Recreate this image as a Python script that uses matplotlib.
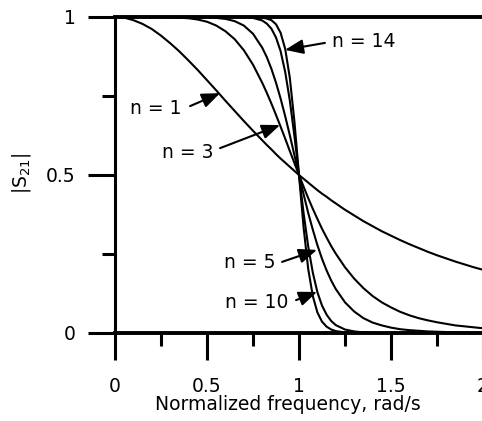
import matplotlib.pyplot as plt
from matplotlib.ticker import MultipleLocator

plt.rcParams['font.family'] = 'DejaVu Sans'
plt.rcParams['mathtext.fontset'] = 'dejavusans'

# normalized frequency (rad/s) and |S21|
freq = [0, 0.05, 0.1, 0.15, 0.2, 0.25, 0.3, 0.35, 0.4, 0.45, 0.5, 0.55, 0.6, 0.65, 0.7, 0.75, 0.8,
        0.825, 0.85, 0.875, 0.9, 0.925, 0.95, 0.975, 1.0, 1.025, 1.05, 1.075, 1.1, 1.125, 1.15, 1.175,
        1.2, 1.25, 1.3, 1.35, 1.4, 1.45, 1.5, 1.55, 1.6, 1.65, 1.7, 1.75, 1.8, 1.85, 1.9, 1.95, 2.0]

s21_n1 = [1.000, 0.998, 0.990, 0.978, 0.962, 0.941, 0.917, 0.891, 0.862, 0.832, 0.800, 0.768,
          0.735, 0.703, 0.671, 0.640, 0.610,
          0.595, 0.581, 0.566, 0.552, 0.539, 0.526, 0.513, 0.500, 0.488, 0.476, 0.464, 0.452,
          0.441, 0.431, 0.420,
          0.410, 0.390, 0.372, 0.354, 0.338, 0.322, 0.308, 0.294, 0.281, 0.269, 0.257, 0.246,
          0.236, 0.226, 0.217, 0.208, 0.200]
s21_n3 = [1.000, 1.000, 1.000, 1.000, 1.000, 1.000, 0.999, 0.998, 0.996, 0.992, 0.985, 0.973,
          0.955, 0.930, 0.895, 0.849, 0.792,
          0.760, 0.726, 0.690, 0.653, 0.615, 0.576, 0.538, 0.500, 0.463, 0.427, 0.393, 0.361,
          0.330, 0.302, 0.275,
          0.251, 0.208, 0.172, 0.142, 0.117, 0.097, 0.081, 0.067, 0.056, 0.047, 0.040, 0.034,
          0.029, 0.024, 0.021, 0.018, 0.015]
s21_n5 = [1.000, 1.000, 1.000, 1.000, 1.000, 1.000, 1.000, 1.000, 1.000, 1.000, 0.999, 0.997,
          0.994, 0.987, 0.973, 0.947, 0.903,
          0.873, 0.836, 0.792, 0.742, 0.686, 0.626, 0.563, 0.500, 0.439, 0.380, 0.327, 0.278,
          0.235, 0.198, 0.166,
          0.139, 0.097, 0.068, 0.047, 0.033, 0.024, 0.017, 0.012, 0.009, 0.007, 0.005, 0.004,
          0.003, 0.002, 0.002, 0.001, 0.001]
s21_n10 = [1.000, 1.000, 1.000, 1.000, 1.000, 1.000, 1.000, 1.000, 1.000, 1.000, 1.000, 1.000,
           1.000, 1.000, 0.999, 0.997, 0.989,
           0.979, 0.963, 0.935, 0.892, 0.826, 0.736, 0.624, 0.500, 0.379, 0.274, 0.191, 0.129,
           0.087, 0.058, 0.038,
           0.025, 0.011, 0.005, 0.002, 0.001, 0.000, 0.000, 0.000, 0.000, 0.000, 0.000, 0.000,
           0.000, 0.000, 0.000, 0.000, 0.000]
s21_n14 = [1.000, 1.000, 1.000, 1.000, 1.000, 1.000, 1.000, 1.000, 1.000, 1.000, 1.000, 1.000,
           1.000, 1.000, 1.000, 1.000, 0.998,
           0.995, 0.990, 0.977, 0.950, 0.899, 0.808, 0.670, 0.500, 0.334, 0.203, 0.117, 0.065,
           0.036, 0.020, 0.011,
           0.006, 0.002, 0.001, 0.000, 0.000, 0.000, 0.000, 0.000, 0.000, 0.000, 0.000, 0.000,
           0.000, 0.000, 0.000, 0.000, 0.000]

curves = [s21_n1, s21_n3, s21_n5, s21_n10, s21_n14]

# labels: text, text position, arrow tail, arrow tip
labels = ['n = 1', 'n = 3', 'n = 5', 'n = 10', 'n = 14']
label_xy = [(0.364, 0.709), (0.538, 0.570), (0.875, 0.222), (0.940, 0.098), (1.179, 0.921)]
label_ha = ['right', 'right', 'right', 'right', 'left']
arrow_tail = [(0.408, 0.718), (0.571, 0.585), (0.908, 0.225), (0.984, 0.104), (1.141, 0.918)]
arrow_tip = [(0.571, 0.759), (0.897, 0.658), (1.098, 0.263), (1.098, 0.130), (0.924, 0.896)]

fs = 13.5

fig = plt.figure(figsize=(4.82, 4.21), dpi=100)
ax = fig.add_axes([115/482, 88/421, 368/482, 316/421])

for s in curves:
    ax.plot(freq, s, color='k', lw=1.5)

for t, xy, ha, tail, tip in zip(labels, label_xy, label_ha, arrow_tail, arrow_tip):
    ax.text(xy[0], xy[1], t, ha=ha, va='center', fontsize=fs)
    ax.annotate('', xy=tip, xytext=tail,
                arrowprops=dict(arrowstyle='-|>,head_length=0.55,head_width=0.22',
                                mutation_scale=20, lw=1.5, color='k',
                                shrinkA=0, shrinkB=0))

ax.set_xlim(0, 2)
ax.set_ylim(0, 1)

ax.spines['right'].set_visible(False)
ax.spines['left'].set_linewidth(2.2)
ax.spines['top'].set_linewidth(2.8)
ax.spines['bottom'].set_linewidth(2.8)

ax.xaxis.set_minor_locator(MultipleLocator(0.25))
ax.yaxis.set_minor_locator(MultipleLocator(0.25))
ax.set_xticks([0, 0.5, 1, 1.5, 2])
ax.set_xticklabels(['0', '0.5', '1', '1.5', '2'])
ax.set_yticks([0, 0.5, 1])
ax.set_yticklabels(['0', '0.5', '1'])

ax.tick_params(which='major', direction='out', length=19.4, width=2.2, labelsize=fs)
ax.tick_params(which='minor', direction='out', length=9.4, width=2.2)
ax.tick_params(axis='x', which='major', pad=12)
ax.tick_params(axis='y', which='major', pad=9)
ax.tick_params(top=False, right=False, which='both')

ax.set_xlabel('Normalized frequency, rad/s', fontsize=fs)
ax.xaxis.set_label_coords(0.471, -0.196)
ax.set_ylabel(r'|S$_{21}$|', fontsize=fs)
ax.yaxis.set_label_coords(-0.222, 0.506)

plt.savefig('out.png', dpi=100)
